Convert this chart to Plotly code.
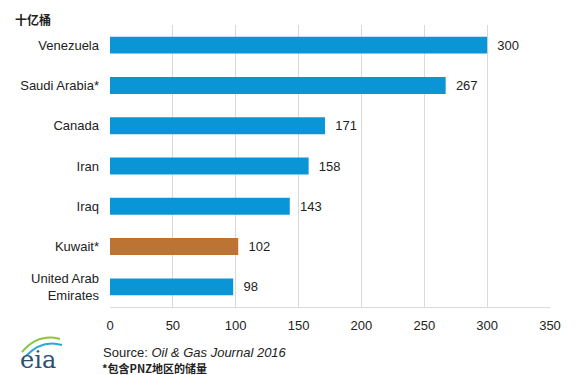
import plotly.graph_objects as go

countries = ["Venezuela", "Saudi Arabia*", "Canada", "Iran", "Iraq", "Kuwait*", "United Arab<br>Emirates"]
reserves = [300, 267, 171, 158, 143, 102, 98]
bar_colors = ["#0a96d6", "#0a96d6", "#0a96d6", "#0a96d6", "#0a96d6", "#bb7433", "#0a96d6"]
x_ticks = [0, 50, 100, 150, 200, 250, 300, 350]

# plot area in page pixels: x 110..550, y 25..307 (page has 8px body margin)
def px(x):
    return (x - 110) / 440

def py(y):
    return (307 - y) / 282

fig = go.Figure(go.Bar(
    x=reserves, y=countries, orientation="h",
    marker=dict(color=bar_colors, line=dict(width=0)),
    text=["  " + str(v) for v in reserves], textposition="outside",
    textfont=dict(family="Liberation Sans, Arial", size=13, color="#222"),
    cliponaxis=False, width=0.42,
))

fig.update_layout(
    width=571, height=367,
    margin=dict(l=102, r=29, t=17, b=68),
    paper_bgcolor="white", plot_bgcolor="white",
    showlegend=False,
    font=dict(family="Liberation Sans, Arial", size=13, color="#222"),
    xaxis=dict(range=[0, 350], tickvals=x_ticks, showgrid=True, gridcolor="#d9d9d9",
               gridwidth=1, zeroline=False, showline=True, linecolor="#d9d9d9",
               ticks="", ticklabelstandoff=6, tickfont=dict(size=13, color="#222")),
    yaxis=dict(autorange="reversed", showgrid=False, zeroline=False, showline=False,
               ticks="", ticklabelstandoff=10, tickfont=dict(size=13, color="#222")),
)

fig.add_annotation(x=px(13), y=py(9), xref="paper", yref="paper", xanchor="left", yanchor="top",
                   text="<b>十亿桶</b>", showarrow=False,
                   font=dict(family="Noto Sans CJK SC", size=12, color="#222"))
fig.add_annotation(x=px(101), y=py(352), xref="paper", yref="paper", xanchor="left", yanchor="middle",
                   text="Source: <i>Oil &amp; Gas Journal 2016</i>", showarrow=False,
                   font=dict(family="Liberation Sans, Arial", size=13, color="#222"))
fig.add_annotation(x=px(100), y=py(368), xref="paper", yref="paper", xanchor="left", yanchor="middle",
                   text="<b>*包含PNZ地区的储量</b>", showarrow=False,
                   font=dict(family="Noto Sans CJK SC", size=11, color="#222"))
# eia logo
fig.add_annotation(x=px(38), y=py(360), xref="paper", yref="paper", xanchor="center", yanchor="middle",
                   text="eia", showarrow=False,
                   font=dict(family="DejaVu Serif, Liberation Serif", size=24, color="#2d4f70"))
fig.add_shape(type="path", xref="paper", yref="paper",
              path=f"M {px(22)} {py(352)} Q {px(38)} {py(333)} {px(60)} {py(339)}",
              line=dict(color="#8cc63f", width=2))
fig.add_shape(type="path", xref="paper", yref="paper",
              path=f"M {px(26)} {py(356)} Q {px(42)} {py(339)} {px(62)} {py(345)}",
              line=dict(color="#29a8e0", width=2))

fig.write_html("out.html")
